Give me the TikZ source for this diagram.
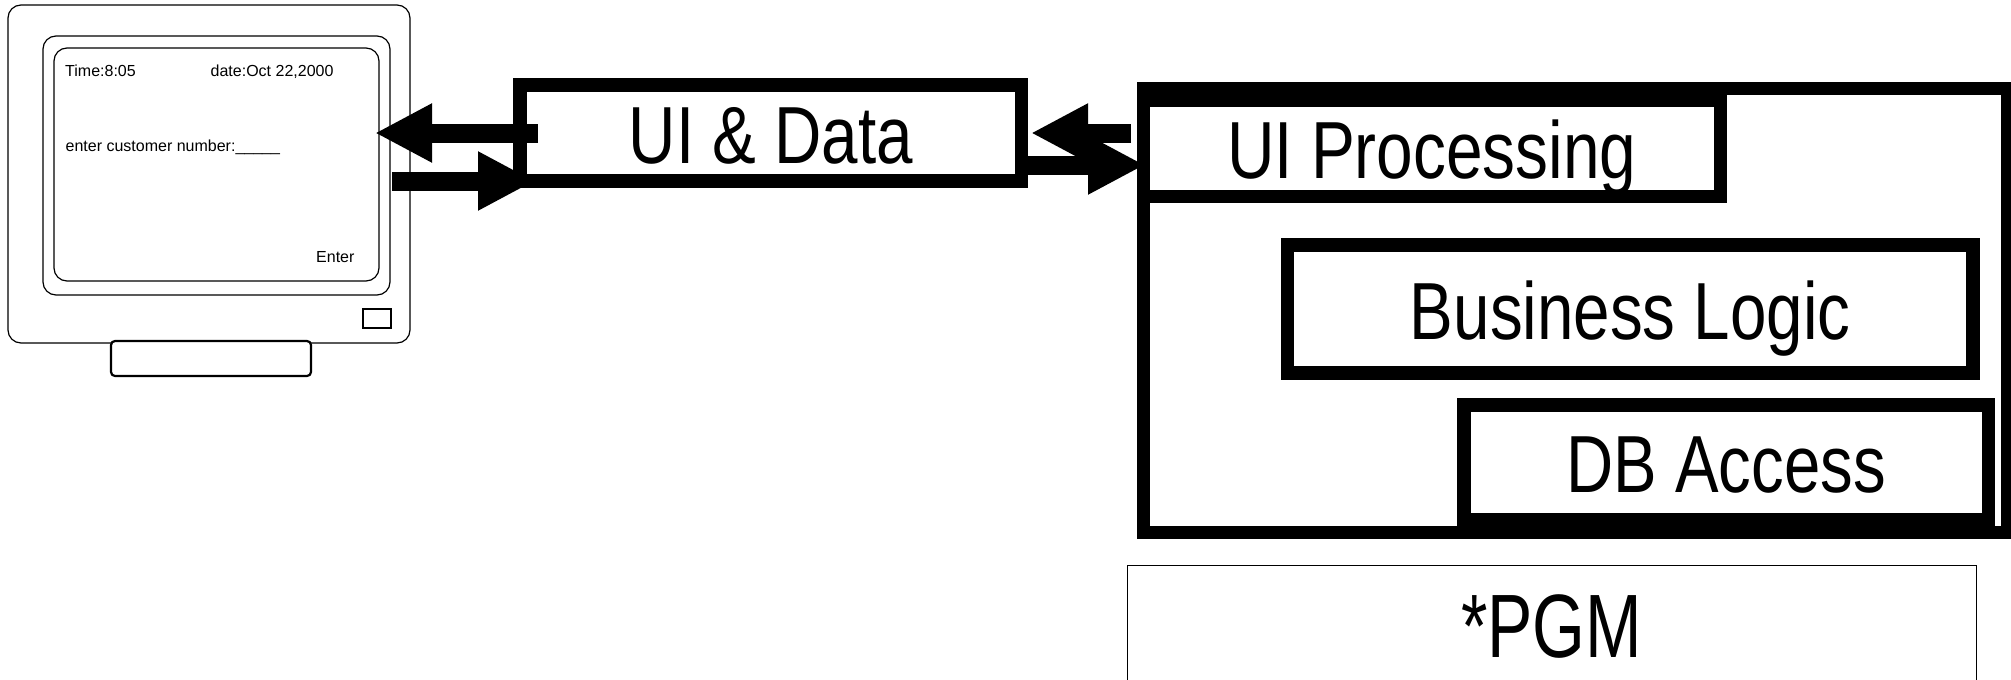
\documentclass[tikz,border=0pt]{standalone}
\usepackage{fontspec}
\setmainfont{Liberation Sans}
\usetikzlibrary{arrows.meta}
\newcommand{\narrowtext}[2]{\scalebox{#1}[1]{#2}}

\begin{document}
\begin{tikzpicture}[->,>={Triangle[length=57pt,width=55pt]},x=1pt,y=-1pt,
                    font=\fontsize{16}{16}\selectfont]
  \tikzstyle{thickbox}=[draw, fill=white, line width=13.5pt, inner sep=0pt, outer sep=0pt,
                        text height=60pt, text depth=0pt, font=\fontsize{81}{81}\selectfont]
  \tikzstyle{thinbox}=[draw, fill=white, line width=1.2pt, rounded corners=13pt, inner sep=0pt]
  \tikzstyle{screentext}=[anchor=base west, inner sep=0pt]
  \tikzstyle{flow}=[line width=19pt]
  \useasboundingbox (0,0) rectangle (2011,680);

  \node[thinbox, minimum width=402pt, minimum height=338pt] (monitor) at (209,174) {};
  \node[thinbox, minimum width=347pt, minimum height=259pt] (bezel)   at (216.5,165.5) {};
  \node[thinbox, minimum width=325pt, minimum height=233pt] (screen)  at (216.5,164.5) {};
  \node[thinbox, line width=2.2pt, rounded corners=4pt, minimum width=200pt, minimum height=35pt] (stand) at (211,358.5) {};
  \node[thinbox, line width=2.2pt, rounded corners=0pt, minimum width=28pt, minimum height=19pt] (button) at (377,318.5) {};

  \node[screentext] (time)   at (65,76)    {Time:8:05};
  \node[screentext] (date)   at (210.5,76) {date:Oct 22,2000};
  \node[screentext] (number) at (65.5,151) {enter customer number:\_\_\_\_\_};
  \node[screentext] (enter)  at (316,262)  {Enter};

  \node[thickbox, minimum width=864pt, minimum height=444pt] (pgmbox) at (1575.5,310.5) {};
  \node[thickbox, line width=13pt, minimum width=576.5pt, minimum height=96pt] (uiproc) at (1431.75,148.5)
       {\narrowtext{.812}{UI Processing}};
  \node[thickbox, minimum width=685.5pt, minimum height=128pt] (logic) at (1630.25,309)
       {\narrowtext{.809}{Business Logic}};
  \node[thickbox, minimum width=524.5pt, minimum height=115pt] (dbaccess) at (1726.25,462.5)
       {\narrowtext{.806}{DB Access}};
  \node[thickbox, minimum width=501.5pt, minimum height=96pt] (uidata) at (770.75,133)
       {\narrowtext{.809}{UI \& Data}};
  \node[thickbox, line width=.8pt, minimum width=849pt, minimum height=118pt,
        font=\fontsize{90}{90}\selectfont, text height=66pt] (pgm) at (1551.5,624)
       {\narrowtext{.754}{*PGM}};

  \coordinate (screenin)  at (375,133);
  \coordinate (uiback)    at (538,133);
  \coordinate (screenout) at (392,181);
  \coordinate (uiin)      at (535,181);
  \coordinate (databack)  at (1031,133);
  \coordinate (procback)  at (1131,133);
  \coordinate (dataout)   at (1022,165);
  \coordinate (procin)    at (1145,165);

  \path (uiback)    edge [flow] (screenin)
        (screenout) edge [flow] (uiin)
        (procback)  edge [flow] (databack)
        (dataout)   edge [flow] (procin);
\end{tikzpicture}
\end{document}
